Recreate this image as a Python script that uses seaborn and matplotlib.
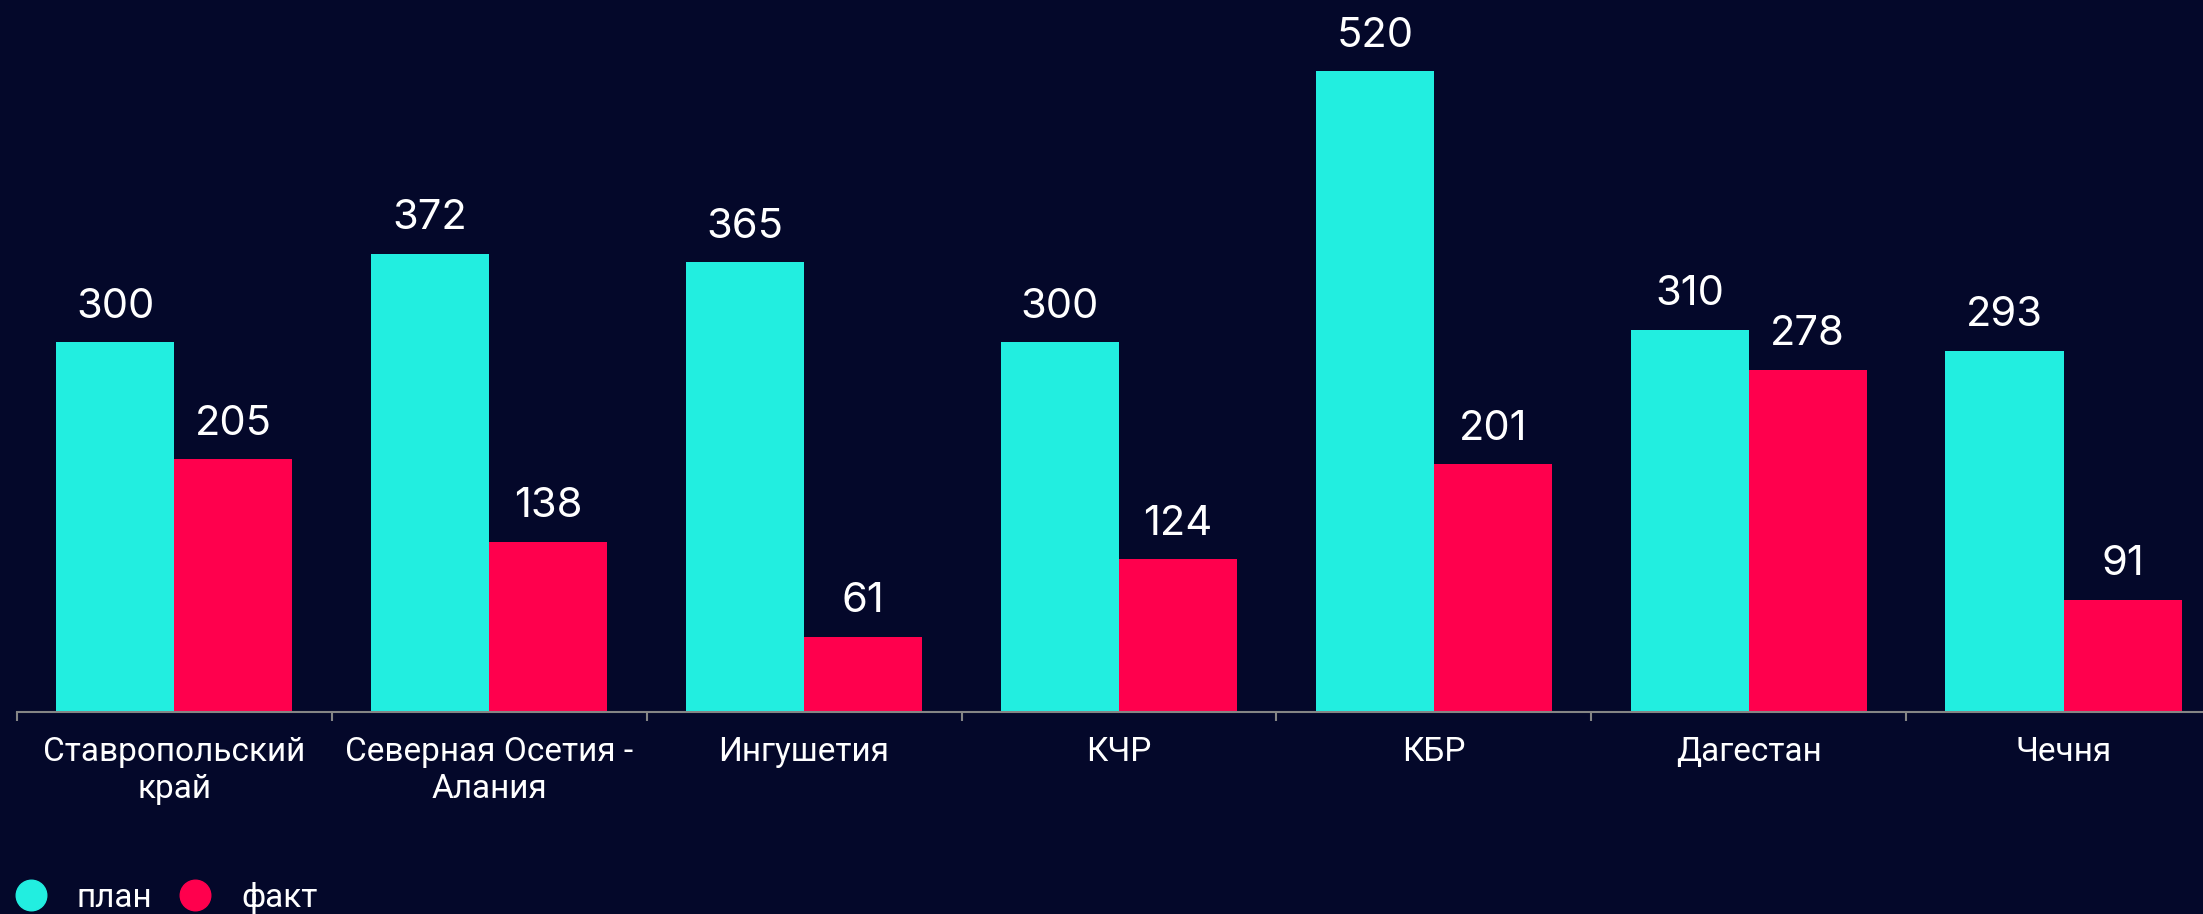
import numpy as np
import pandas as pd
import seaborn as sns
import matplotlib.pyplot as plt
from matplotlib.lines import Line2D

# Data
regions = ["Ставропольский\nкрай", "Северная Осетия -\nАлания", "Ингушетия",
           "КЧР", "КБР", "Дагестан", "Чечня"]
plan = [300, 372, 365, 300, 520, 310, 293]
fact = [205, 138, 61, 124, 201, 278, 91]
series_names = ["план", "факт"]

bg = "#04082a"
cyan = "#22eee0"
red = "#ff004d"

df = pd.DataFrame({
    "region": regions * 2,
    "value": plan + fact,
    "series": [series_names[0]] * len(plan) + [series_names[1]] * len(fact),
})

sns.set_theme(style="white")
plt.rcParams['font.family'] = ['Roboto', 'DejaVu Sans']

fig = plt.figure(figsize=(22.03, 9.14), dpi=100, facecolor=bg)
ax = fig.add_axes([17 / 2203, 202 / 914, 1 - 17 / 2203, 1 - 202 / 914])
ax.set_facecolor(bg)

sns.barplot(data=df, x="region", y="value", hue="series", order=regions,
            hue_order=series_names, palette=[cyan, red], width=0.75, gap=0,
            saturation=1, legend=False, ax=ax, linewidth=0)

# value labels
for cont in ax.containers:
    ax.bar_label(cont, fmt="%d", color="white", fontsize=30, padding=12,
                 family=["Inter", "DejaVu Sans"])

ax.set_xlabel("")
ax.set_ylabel("")
ax.set_yticks([])

# ticks at category boundaries, labels at centres
ax.set_xticks(np.arange(-0.5, 7, 1))
ax.set_xticklabels([])
ax.set_xticks(np.arange(len(regions)), minor=True)
ax.set_xticklabels(regions, minor=True, color="white", fontsize=24)
ax.tick_params(axis="x", which="major", length=6.5, width=1.5, color="#858585", bottom=True)
ax.tick_params(axis="x", which="minor", length=0, pad=17)

# limits after ticks (set_xticks would widen them)
ax.set_xlim(-0.5, 6.443)
ax.set_ylim(0, 578)

for s in ["top", "right", "left"]:
    ax.spines[s].set_visible(False)
ax.spines["bottom"].set_color("#858585")
ax.spines["bottom"].set_linewidth(1.5)

# legend
handles = [Line2D([], [], marker="o", linestyle="", markersize=22, color=c)
           for c in [cyan, red]]
fig.legend(handles, series_names, loc="center left", bbox_to_anchor=(14 / 2203, 16 / 914),
           frameon=False, fontsize=24, labelcolor="white", ncol=2,
           handlelength=1.0, handletextpad=0.88, columnspacing=0.78, borderpad=0,
           borderaxespad=0)

plt.savefig("out.png", dpi=100, facecolor=bg)
